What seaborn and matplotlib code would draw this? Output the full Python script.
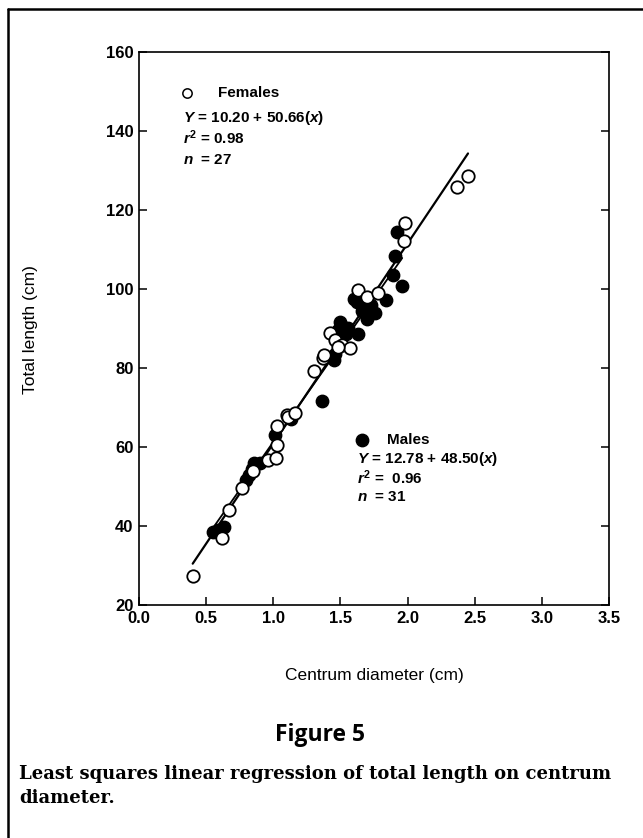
import numpy as np
import pandas as pd
import matplotlib
matplotlib.use("Agg")
import matplotlib.pyplot as plt
import seaborn as sns

# ---------------- data ----------------
female_x = [0.40, 0.62, 0.67, 0.77, 0.85, 0.96, 1.02, 1.03, 1.03, 1.10, 1.11, 1.16,
            1.30, 1.37, 1.38, 1.42, 1.46, 1.51, 1.57, 1.48, 1.63, 1.70, 1.78,
            1.97, 1.98, 2.37, 2.45]
female_y = [27.3, 37.0, 44.0, 49.6, 54.0, 56.7, 57.2, 60.6, 65.2, 68.0, 67.6, 68.6,
            79.3, 82.6, 83.2, 88.8, 87.1, 85.8, 85.0, 85.2, 99.7, 98.0, 99.1,
            112.2, 116.8, 125.7, 128.6]

male_x = [0.55, 0.59, 0.63, 0.80, 0.82, 0.84, 0.86, 0.90, 1.01, 1.13, 1.36,
          1.45, 1.46, 1.48, 1.50, 1.52, 1.54, 1.56, 1.60, 1.62, 1.63, 1.66,
          1.67, 1.70, 1.73, 1.76, 1.84, 1.89, 1.91, 1.92, 1.96]
male_y = [38.5, 39.0, 39.8, 51.6, 52.8, 54.5, 55.9, 56.0, 63.0, 67.0, 71.6,
          82.0, 83.5, 89.5, 91.7, 90.5, 88.5, 90.0, 97.5, 96.8, 88.6, 94.5,
          95.5, 92.5, 96.0, 93.8, 97.2, 103.6, 108.3, 114.5, 100.7]

female_intercept, female_slope = 10.20, 50.66
male_intercept, male_slope = 12.78, 48.50

x_ticks = [0.0, 0.5, 1.0, 1.5, 2.0, 2.5, 3.0, 3.5]
y_ticks = [20, 40, 60, 80, 100, 120, 140, 160]

female_label = ["Females", "$Y$ = 10.20 + 50.66($x$)", "$r^2$ = 0.98", "$n$  = 27"]
male_label = ["Males", "$Y$ = 12.78 + 48.50($x$)", "$r^2$ =  0.96", "$n$  = 31"]

x_label = "Centrum diameter (cm)"
y_label = "Total length (cm)"
fig_title = "Figure 5"
caption = "Least squares linear regression of total length on centrum\ndiameter."

# ---------------- style ----------------
sns.set_theme(style="white")
plt.rcParams["font.family"] = ["Liberation Sans", "DejaVu Sans"]
plt.rcParams["text.color"] = "black"
plt.rcParams["axes.labelcolor"] = "black"
plt.rcParams["mathtext.fontset"] = "custom"
plt.rcParams["mathtext.rm"] = "Liberation Sans:bold"
plt.rcParams["mathtext.it"] = "Liberation Sans:italic:bold"
plt.rcParams["mathtext.bf"] = "Liberation Sans:bold"

fig = plt.figure(figsize=(6.43, 8.38), dpi=100)
fig.patch.set_facecolor("white")
ax = fig.add_axes([139 / 643, 1 - 605 / 838, 470 / 643, 553 / 838])

df_f = pd.DataFrame({"x": female_x, "y": female_y})
df_m = pd.DataFrame({"x": male_x, "y": male_y})

# regression lines over each sample's range
fx = np.array([min(female_x), max(female_x)])
mx = np.array([min(male_x), max(male_x)])
df_fl = pd.DataFrame({"x": fx, "y": female_intercept + female_slope * fx})
df_ml = pd.DataFrame({"x": mx, "y": male_intercept + male_slope * mx})

sns.lineplot(data=df_fl, x="x", y="y", color="black", linewidth=1.6, ax=ax, zorder=2)
sns.lineplot(data=df_ml, x="x", y="y", color="black", linewidth=1.3, ax=ax, zorder=2)

sns.scatterplot(data=df_m, x="x", y="y", marker="o", s=80, color="black",
                edgecolor="black", linewidth=1.0, ax=ax, zorder=3)
sns.scatterplot(data=df_f, x="x", y="y", marker="o", s=80, facecolor="white",
                edgecolor="black", linewidth=1.3, ax=ax, zorder=4)

ax.set_xlim(x_ticks[0], x_ticks[-1])
ax.set_ylim(y_ticks[0], y_ticks[-1])
ax.set_xticks(x_ticks)
ax.set_yticks(y_ticks)
ax.set_xticklabels([f"{t:.1f}" for t in x_ticks], fontsize=12, fontweight="bold")
ax.set_yticklabels([str(t) for t in y_ticks], fontsize=12, fontweight="bold")
ax.tick_params(axis="both", direction="in", length=6, width=1.1, color="black",
               labelcolor="black", pad=4)
ax.tick_params(axis="y", right=True, left=True)
ax.tick_params(axis="x", bottom=True, top=False)
for sp in ax.spines.values():
    sp.set_visible(True)
    sp.set_color("black")
    sp.set_linewidth(1.2)

ax.set_xlabel("")
ax.set_ylabel("")
fig.text(374 / 643, 1 - 675 / 838, x_label, ha="center", va="center", fontsize=12.5)
fig.text(30 / 643, 1 - 330 / 838, y_label, ha="center", va="center",
         rotation=90, fontsize=12.5)

# annotation blocks
ax.scatter([0.36], [149.6], s=45, facecolor="white", edgecolor="black",
           linewidth=1.1, zorder=5)
ax.text(0.59, 149.6, female_label[0], fontsize=11, fontweight="bold", va="center")
fy = [143.3, 138.2, 132.7]
for t, yy in zip(female_label[1:], fy):
    ax.text(0.33, yy, t, fontsize=11, fontweight="bold", va="center")

ax.scatter([1.66], [61.8], s=80, color="black", zorder=5)
ax.text(1.85, 61.8, male_label[0], fontsize=11, fontweight="bold", va="center")
my = [57.0, 52.2, 47.4]
for t, yy in zip(male_label[1:], my):
    ax.text(1.62, yy, t, fontsize=11, fontweight="bold", va="center")

# figure title & caption
fig.text(320 / 643, 1 - 735 / 838, fig_title, ha="center", va="center",
         fontsize=16.5, fontweight="bold", family=["Open Sans", "DejaVu Sans"])
fig.text(19 / 643, 1 - 765 / 838, caption, ha="left", va="top",
         fontsize=13, fontweight="bold", family=["DejaVu Serif"],
         linespacing=1.45)

# page frame (top and left rules)
fig.add_artist(plt.Line2D([8 / 643, 1.0], [1 - 9 / 838, 1 - 9 / 838],
                          transform=fig.transFigure, color="black", linewidth=1.8))
fig.add_artist(plt.Line2D([8 / 643, 8 / 643], [1 - 9 / 838, 0.0],
                          transform=fig.transFigure, color="black", linewidth=1.8))

fig.savefig("out.png", dpi=100, facecolor="white")
